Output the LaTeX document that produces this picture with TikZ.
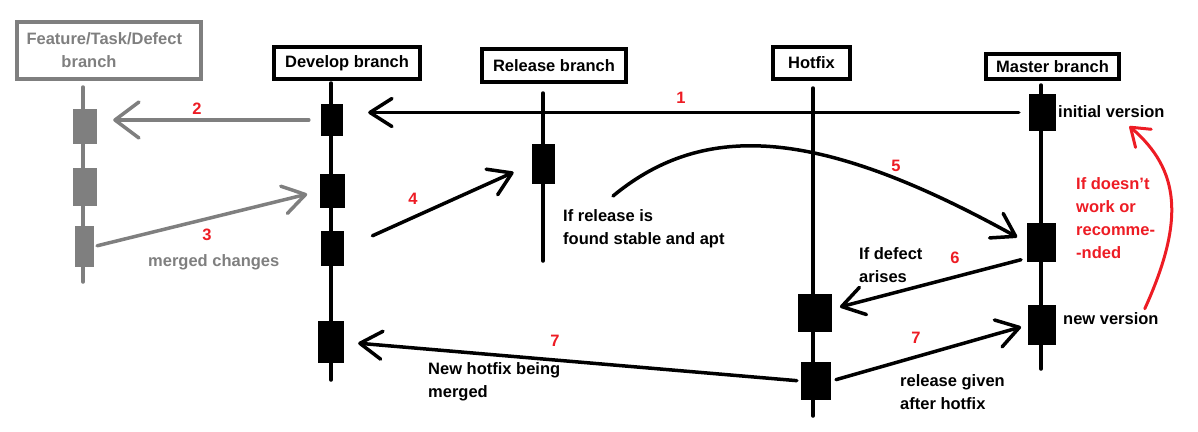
\documentclass[tikz,border=0pt]{standalone}
\usepackage{fontspec}
\setmainfont{Liberation Sans}
\usepackage{tikz}
\usetikzlibrary{arrows.meta}
\definecolor{paintred}{RGB}{237,28,36}
\definecolor{paintgray}{RGB}{127,127,127}

\begin{document}
\begin{tikzpicture}[x=1pt, y=-1pt,
  font=\fontsize{16.5}{23}\selectfont\bfseries,
  head/.style={draw, line width=3.5pt, inner sep=0pt},
  commit/.style={fill, inner sep=0pt},
  branchline/.style={line width=3.5pt, line cap=round},
  arr/.style={line width=3.5pt, line cap=round, -{Straight Barb[length=22pt,width=28pt,round]}},
  num/.style={text=paintred, inner sep=0pt},
  txt/.style={anchor=west, align=left, inner sep=0pt}]

  \useasboundingbox (0,0) rectangle (1198,431);

  \node[head, paintgray, text=paintgray, minimum width=184pt, minimum height=57pt, text width=165pt, align=left] (feat) at (109,50.5) {Feature/Task/Defect\\\hspace*{35pt}branch};
  \node[head, minimum width=146pt, minimum height=32pt] (dev) at (347,63) {Develop branch};
  \node[head, minimum width=144pt, minimum height=33pt] (rel) at (554,65.5) {Release branch};
  \node[head, minimum width=77pt, minimum height=32pt] (hot) at (811.5,63) {Hotfix};
  \node[head, minimum width=133pt, minimum height=25pt] (mas) at (1052.5,66.5) {Master branch};

  \draw[branchline, paintgray] (83,87) -- (83,282);
  \draw[branchline] (331,83) -- (331,380);
  \draw[branchline] (543,93) -- (543,261);
  \draw[branchline] (813,88) -- (813,416);
  \draw[branchline] (1041,85) -- (1041,369);

  \node[commit, paintgray, minimum width=24pt, minimum height=35pt] (f1) at (85,126.5) {};
  \node[commit, paintgray, minimum width=24pt, minimum height=38pt] (f2) at (85,187) {};
  \node[commit, paintgray, minimum width=19pt, minimum height=41pt] (f3) at (84.5,246.5) {};

  \node[commit, minimum width=22pt, minimum height=32pt] (d1) at (332,120) {};
  \node[commit, minimum width=25pt, minimum height=34pt] (d2) at (332.5,191) {};
  \node[commit, minimum width=23pt, minimum height=35pt] (d3) at (332.5,248.5) {};
  \node[commit, minimum width=26pt, minimum height=42pt] (d4) at (331,342) {};

  \node[commit, minimum width=23pt, minimum height=40pt] (r1) at (543.5,164) {};

  \node[commit, minimum width=34pt, minimum height=38pt] (h1) at (815,313) {};
  \node[commit, minimum width=30pt, minimum height=38pt] (h2) at (816,381) {};

  \node[commit, minimum width=27pt, minimum height=37pt] (m1) at (1042.5,112.5) {};
  \node[commit, minimum width=29pt, minimum height=39pt] (m2) at (1041.5,242.5) {};
  \node[commit, minimum width=28pt, minimum height=40pt] (m3) at (1042,325) {};

  \node[txt] (iv) at (1058,112) {initial version};
  \node[txt] (nv) at (1063,319) {new version};
  \node[txt, text=paintred] (fail) at (1076,218.5) {If doesn\symbol{39}t\\work or\\recomme-\\-nded};
  \node[txt] (defect) at (859,265.5) {If defect\\arises};
  \node[txt] (given) at (900,392.5) {release given\\after hotfix};
  \node[txt] (merging) at (428,381.5) {New hotfix being\\merged};
  \node[txt] (stable) at (563,228.5) {If release is\\found stable and apt};
  \node[txt, text=paintgray] (merged) at (148,262) {merged changes};

  \node[num] (n1) at (681,98) {1};
  \node[num] (n2) at (197,109) {2};
  \node[num] (n3) at (207,235) {3};
  \node[num] (n4) at (413,199) {4};
  \node[num] (n5) at (896,166) {5};
  \node[num] (n6) at (955,258) {6};
  \node[num] (n7a) at (555,341) {7};
  \node[num] (n7b) at (916,338) {7};

  \draw[arr, shorten <=10pt, shorten >=25pt] (m1.west) -- (d1.east |- m1.west);
  \draw[arr, paintgray, shorten <=12pt, shorten >=16pt, -{Straight Barb[length=24pt,width=36pt,round]}] (d1.west) -- (f1.east |- d1.west);
  \draw[arr, paintgray, shorten <=3pt, shorten >=13pt] (f3.east) -- (d2.west);
  \draw[arr, shorten <=31pt, shorten >=20pt] (d3.east) -- (r1.west);
  \coordinate (c5) at (613,196);
  \draw[arr, shorten >=11pt] (c5) .. controls (705,120) and (820,128) .. (m2.west);
  \draw[arr, shorten <=6pt, shorten >=8pt] ([yshift=4pt]m2.south west) -- ([yshift=4pt]h1.east);
  \draw[arr, shorten <=4pt, shorten >=14pt] (h2.west) -- (d4.east);
  \draw[arr, shorten <=5pt, shorten >=7pt] (h2.east) -- (m3.west);
  \draw[arr, paintred, line width=3pt, -{Straight Barb[length=17pt,width=24pt,round]}] ([xshift=-14pt, yshift=4pt]nv.north east) .. controls (1185,220) and (1180,170) .. ([xshift=18pt, yshift=-8pt]iv.south);

\end{tikzpicture}
\end{document}
